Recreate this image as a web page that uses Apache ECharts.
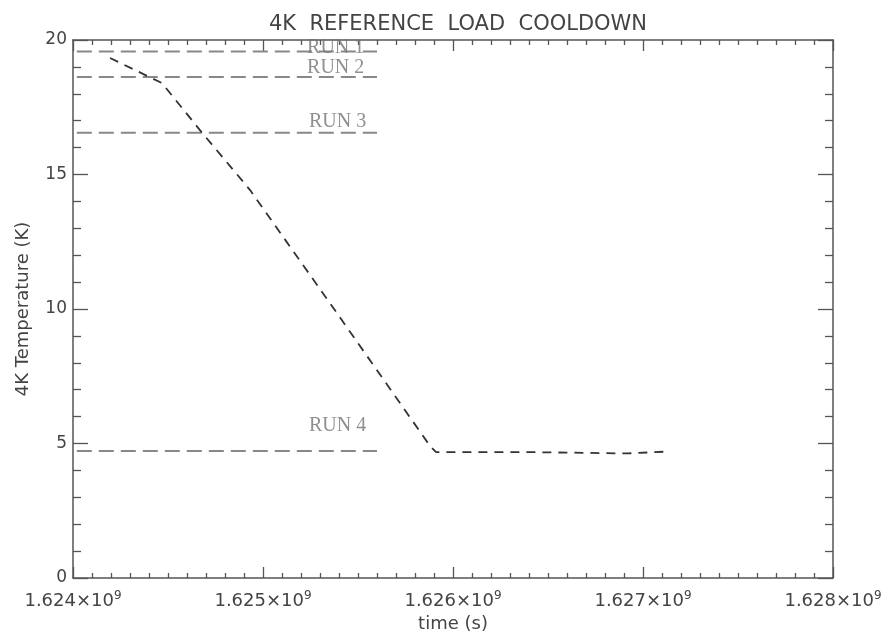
<!DOCTYPE html>
<html>
<head>
<meta charset="utf-8">
<script src="https://cdn.jsdelivr.net/npm/echarts@6/dist/echarts.min.js"></script>
<style>html,body{margin:0;padding:0;background:#fff}#c{width:885px;height:633px}</style>
</head>
<body>
<div id="c"></div>
<script>
// Cooldown curve (time in s, temperature in K)
var cooldownTime = [1.624195e9, 1.624468e9, 1.624668e9, 1.624932e9, 1.625389e9, 1.625879e9, 1.625911e9, 1.626405e9, 1.626916e9, 1.627126e9];
var cooldownTemp = [19.33, 18.40, 16.65, 14.42, 9.85, 4.91, 4.68, 4.68, 4.63, 4.70];
// Reference run levels
var runNames = ['RUN 1', 'RUN 2', 'RUN 3', 'RUN 4'];
var runLevels = [19.57, 18.62, 16.55, 4.72];
var runStart = 1.62402e9;
var runEnd = 1.6256e9;
// Run label anchors (left edge, centre)
var runLabelTime = [1.625232e9, 1.625232e9, 1.625242e9, 1.625242e9];
var runLabelTemp = [19.70, 18.96, 16.95, 5.65];
// Axis ticks
var xMin = 1.624e9, xMax = 1.628e9, xStep = 1e6;
var yMin = 0, yMax = 20, yStep = 5;

var axisColor = '#555';
var textColor = '#444';
var font = 'DejaVu Sans';

var series = [];
series.push({
  type: 'line',
  data: cooldownTime.map(function (t, i) { return [t, cooldownTemp[i]]; }),
  showSymbol: false,
  symbol: 'none',
  lineStyle: { color: '#333', width: 1.8, type: [9, 7] },
  z: 3
});
runLevels.forEach(function (lv) {
  series.push({
    type: 'line',
    data: [[runStart, lv], [runEnd, lv]],
    symbol: 'none',
    lineStyle: { color: '#888', width: 2, type: [15, 7] },
    z: 2
  });
});
series.push({
  type: 'scatter',
  symbolSize: 0,
  data: runNames.map(function (n, i) { return { name: n, value: [runLabelTime[i], runLabelTemp[i]] }; }),
  label: {
    show: true,
    position: 'right',
    distance: 0,
    formatter: function (p) { return p.name; },
    fontFamily: 'Liberation Serif',
    fontSize: 20,
    color: '#737373'
  },
  z: 4
});

function baseX(pos, labels) {
  return {
    type: 'value', position: pos, min: xMin, max: xMax, interval: xStep,
    axisLine: { show: true, onZero: false, lineStyle: { color: axisColor, width: 1.5 } },
    axisTick: { show: true, inside: true, length: 11, lineStyle: { color: axisColor, width: 1.3 } },
    minorTick: { show: true, splitNumber: 10, length: 5, lineStyle: { color: axisColor, width: 1.3 } },
    splitLine: { show: false },
    axisLabel: labels ? {
      show: true, margin: 12, color: textColor, hideOverlap: false,
      formatter: function (v) { return '{a|' + (v / 1e9).toFixed(3) + '×10}{s|9}'; },
      rich: {
        a: { fontFamily: font, fontSize: 18, color: textColor, lineHeight: 22 },
        s: { fontFamily: font, fontSize: 12, color: textColor, lineHeight: 12, verticalAlign: 'top' }
      }
    } : { show: false }
  };
}
function baseY(pos, labels) {
  return {
    type: 'value', position: pos, min: yMin, max: yMax, interval: yStep,
    axisLine: { show: true, onZero: false, lineStyle: { color: axisColor, width: 1.5 } },
    axisTick: { show: true, inside: true, length: 15, lineStyle: { color: axisColor, width: 1.3 } },
    minorTick: { show: true, splitNumber: 5, length: 8, lineStyle: { color: axisColor, width: 1.3 } },
    splitLine: { show: false },
    axisLabel: labels ? { show: true, margin: 6, color: textColor, fontFamily: font, fontSize: 17 } : { show: false }
  };
}

var xb = baseX('bottom', true);
xb.name = 'time (s)';
xb.nameLocation = 'middle';
xb.nameGap = 35;
xb.nameTextStyle = { fontFamily: font, fontSize: 18, color: textColor };
var xt = baseX('top', false);
var yl = baseY('left', true);
yl.name = '4K Temperature (K)';
yl.nameLocation = 'middle';
yl.nameGap = 41;
yl.nameTextStyle = { fontFamily: font, fontSize: 18, color: textColor };
var yr = baseY('right', false);

var chart = echarts.init(document.getElementById('c'), null, { renderer: 'canvas' });
chart.setOption({
  animation: false,
  backgroundColor: '#fff',
  title: {
    text: '4K  REFERENCE  LOAD  COOLDOWN',
    left: 453, textAlign: 'center', top: 9,
    textStyle: { fontFamily: font, fontSize: 21, fontWeight: 'normal', color: textColor }
  },
  grid: { left: 73, right: 52, top: 40, bottom: 55, containLabel: false, outerBoundsMode: 'none' },
  xAxis: [xb, xt],
  yAxis: [yl, yr],
  series: series
});
</script>
</body>
</html>
